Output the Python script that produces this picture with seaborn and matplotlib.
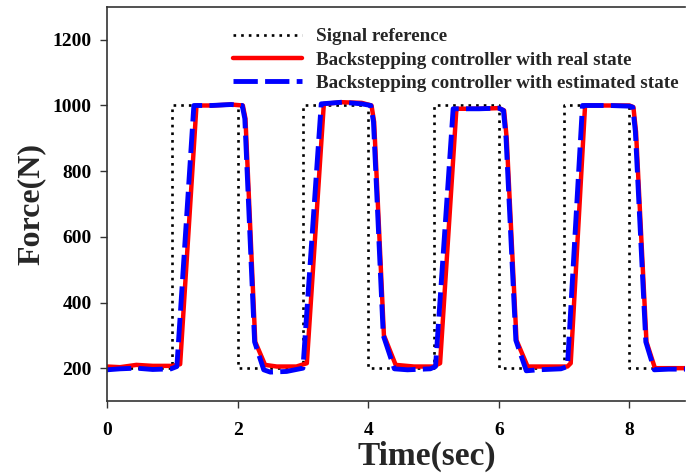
import numpy as np
import pandas as pd
import matplotlib
matplotlib.use("Agg")
import matplotlib.pyplot as plt
import seaborn as sns

# Signal reference (square wave)
ref_t = [0.0, 1.0, 1.0, 2.0, 2.0, 3.0, 3.0, 4.0, 4.0, 5.0, 5.0, 6.0, 6.0, 7.0, 7.0, 8.0, 8.0, 8.85]
ref_f = [200, 200, 1000, 1000, 200, 200, 1000, 1000, 200, 200, 1000, 1000, 200, 200, 1000, 1000, 200, 200]

# Backstepping controller with real state
real_t = [0.0, 0.2, 0.45, 0.7, 1.0, 1.12, 1.37, 1.6, 1.9, 2.08, 2.12, 2.27, 2.42, 2.6, 2.9, 3.06,
          3.32, 3.6, 3.9, 4.05, 4.09, 4.24, 4.42, 4.7, 5.0, 5.1, 5.35, 5.7, 6.0, 6.08, 6.12, 6.27,
          6.44, 6.8, 7.05, 7.1, 7.32, 7.7, 8.0, 8.06, 8.1, 8.26, 8.39, 8.6, 8.85]
real_f = [205, 203, 210, 207, 207, 212, 1000, 1000, 1003, 1000, 960, 280, 210, 205, 205, 215,
          1005, 1010, 1008, 1000, 950, 300, 210, 205, 205, 215, 990, 990, 992, 985, 900, 285,
          205, 205, 205, 215, 1000, 1000, 1000, 995, 920, 280, 200, 200, 200]

# Backstepping controller with estimated state
est_t = [0.0, 0.2, 0.45, 0.7, 0.98, 1.07, 1.33, 1.6, 1.9, 2.07, 2.11, 2.26, 2.4, 2.5, 2.75, 3.0,
         3.28, 3.6, 3.9, 4.04, 4.08, 4.23, 4.4, 4.6, 4.95, 5.03, 5.3, 5.7, 6.0, 6.07, 6.11, 6.26,
         6.42, 6.6, 6.95, 7.05, 7.28, 7.7, 8.0, 8.05, 8.09, 8.25, 8.38, 8.6, 8.85]
est_f = [195, 198, 200, 196, 198, 205, 1000, 1000, 1003, 1000, 960, 280, 195, 188, 190, 200,
         1005, 1010, 1005, 1000, 950, 300, 198, 195, 198, 205, 990, 990, 992, 985, 900, 285,
         192, 195, 198, 205, 1000, 1000, 998, 995, 920, 280, 195, 197, 197]

sns.set_style("ticks")
plt.rcParams['font.family'] = ['Liberation Serif', 'DejaVu Serif']
plt.rcParams['font.weight'] = 'bold'

fig = plt.figure(figsize=(6.86, 4.73), dpi=100)
ax = fig.add_axes([107/686, 1 - 401/473, (685 - 107)/686, (401 - 7)/473])

df_ref = pd.DataFrame({'t': ref_t, 'f': ref_f})
df_real = pd.DataFrame({'t': real_t, 'f': real_f})
df_est = pd.DataFrame({'t': est_t, 'f': est_f})

common = dict(ax=ax, sort=False, estimator=None, errorbar=None)
sns.lineplot(data=df_ref, x='t', y='f', color='black', lw=1.9, linestyle=(0, (1, 1.9)),
             label='Signal reference', **common)
sns.lineplot(data=df_real, x='t', y='f', color='#ff0000', lw=3.2,
             label='Backstepping controller with real state', **common)
sns.lineplot(data=df_est, x='t', y='f', color='#0000ff', lw=3.5, linestyle=(0, (5, 1.5)),
             label='Backstepping controller with estimated state', **common)

ax.set_xlim(0, 8.85)
ax.set_ylim(100, 1300)
ax.set_xticks([0, 2, 4, 6, 8])
ax.set_yticks([200, 400, 600, 800, 1000, 1200])
ax.tick_params(axis='both', direction='out', length=5, width=1, labelsize=14, colors='#333333',
               labelcolor='black')
ax.tick_params(axis='x', pad=10)
ax.tick_params(axis='y', pad=6)
for lab in ax.get_xticklabels() + ax.get_yticklabels():
    lab.set_fontweight('bold')
ax.spines['right'].set_visible(False)
for s in ['left', 'bottom', 'top']:
    ax.spines[s].set_color('#333333')
    ax.spines[s].set_linewidth(1.2)

ax.set_xlabel('Time(sec)', fontsize=24, fontweight='bold')
ax.xaxis.set_label_coords(0.553, -0.14)
ax.xaxis.label.set_va('center')
ax.set_ylabel('Force(N)', fontsize=23, fontweight='bold', labelpad=5)

leg = ax.legend(loc='upper left', bbox_to_anchor=(233/686, 1 - 28/473), bbox_transform=fig.transFigure,
                frameon=False, fontsize=13.8, handlelength=3.6, handletextpad=0.75, labelspacing=0.3,
                borderpad=0, borderaxespad=0)
for txt in leg.get_texts():
    txt.set_fontweight('bold')

fig.savefig('out.png', dpi=100)
